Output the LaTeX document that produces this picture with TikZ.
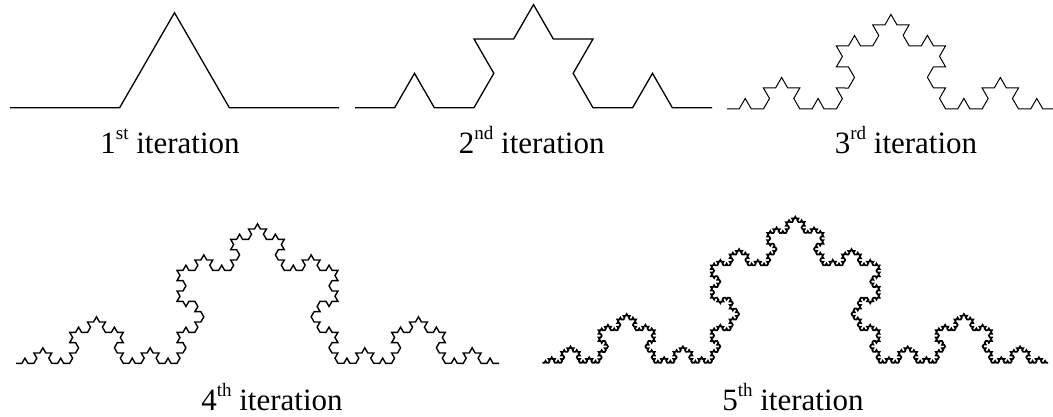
\documentclass[tikz,border=0pt]{standalone}
\usepackage{fontspec}
\setmainfont{Liberation Serif}
\usetikzlibrary{decorations.fractals}
\newcommand{\supx}[1]{\raisebox{0.42em}{\fontsize{19}{22}\selectfont #1}}
\begin{document}
\begin{tikzpicture}[x=1pt,y=1pt,
  koch/.style={decoration=Koch snowflake, line join=miter, black},
  lbl/.style={anchor=base, inner sep=0pt, font=\fontsize{31}{37}\selectfont}]
\useasboundingbox (0,0) rectangle (1053,416);
% iteration 1
\draw[koch, line width=1.3pt] decorate{ (10,308.3) -- (339,308.3) };
% iteration 2
\draw[koch, line width=1.3pt] decorate{ decorate{ (355,308.3) -- (712,308.3) }};
% iteration 3
\draw[koch, line width=1pt] decorate{ decorate{ decorate{ (727,307) -- (1055,307) }}};
% iteration 4
\draw[koch, line width=1.4pt] decorate{ decorate{ decorate{ decorate{ (16,52.7) -- (499,52.7) }}}};
% iteration 5
\draw[koch, line width=1.7pt] decorate{ decorate{ decorate{ decorate{ decorate{ (542.4,53.3) -- (1048.2,53.3) }}}}};
\node[lbl] (l1) at (170,263) {1\supx{st} iteration};
\node[lbl] (l2) at (531.7,263) {2\supx{nd} iteration};
\node[lbl] (l3) at (906,263) {3\supx{rd} iteration};
\node[lbl] (l4) at (272,6) {4\supx{th} iteration};
\node[lbl] (l5) at (793,6) {5\supx{th} iteration};
\end{tikzpicture}
\end{document}
